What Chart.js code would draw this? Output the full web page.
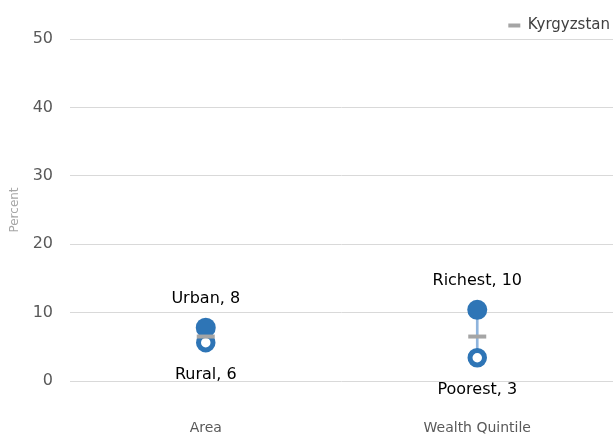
<!DOCTYPE html>
<html>
<head>
<meta charset="utf-8">
<script src="https://cdn.jsdelivr.net/npm/chart.js@4.4.0/dist/chart.umd.min.js"></script>
<style>
  html, body { margin: 0; padding: 0; background: #fff; overflow: hidden; }
  canvas { display: block; }
</style>
</head>
<body>
<canvas id="chart" width="613" height="436"></canvas>
<script>
const categories = ['Area', 'Wealth Quintile'];
const highNames = ['Urban', 'Richest'];
const highValues = [7.8, 10.4];
const lowNames = ['Rural', 'Poorest'];
const lowValues = [5.6, 3.4];
const nationalValues = [6.5, 6.5];
const yTicks = [0, 10, 20, 30, 40, 50];

const FONT = "'DejaVu Sans', sans-serif";
const BLUE = '#2e75b6';

// draws "Name, value" above the high dot and below the low dot
const pointLabels = {
  id: 'pointLabels',
  afterDatasetsDraw(chart) {
    const ctx = chart.ctx;
    ctx.save();
    ctx.font = '16px ' + FONT;
    ctx.fillStyle = '#000';
    ctx.textAlign = 'center';
    ctx.textBaseline = 'middle';
    chart.getDatasetMeta(1).data.forEach((pt, i) => {
      ctx.fillText(highNames[i] + ', ' + Math.round(highValues[i]), pt.x, pt.y - 29);
    });
    chart.getDatasetMeta(2).data.forEach((pt, i) => {
      ctx.fillText(lowNames[i] + ', ' + Math.round(lowValues[i]), pt.x, pt.y + 32);
    });
    ctx.restore();
  }
};

new Chart(document.getElementById('chart'), {
  type: 'bar',
  data: {
    labels: categories,
    datasets: [
      {
        label: 'range',
        data: categories.map((c, i) => [lowValues[i], highValues[i]]),
        backgroundColor: '#8fb4dd',
        barThickness: 2,
        order: 3
      },
      {
        type: 'line',
        label: 'high',
        data: highValues,
        showLine: false,
        pointRadius: 10,
        pointBackgroundColor: BLUE,
        pointBorderWidth: 0,
        order: 2
      },
      {
        type: 'line',
        label: 'low',
        data: lowValues,
        showLine: false,
        pointRadius: 7.25,
        pointBackgroundColor: '#fff',
        pointBorderColor: BLUE,
        pointBorderWidth: 5,
        order: 2
      },
      {
        type: 'line',
        label: 'Kyrgyzstan',
        data: nationalValues,
        showLine: false,
        pointStyle: 'line',
        pointRadius: 9,
        pointBorderWidth: 4,
        borderColor: '#a5a5a5',
        pointBorderColor: '#a5a5a5',
        backgroundColor: '#a5a5a5',
        order: 1
      }
    ]
  },
  options: {
    responsive: false,
    animation: false,
    layout: { autoPadding: false, padding: { top: 15, right: 0, left: 0, bottom: 0 } },
    plugins: {
      legend: {
        position: 'top',
        align: 'end',
        maxHeight: 24,
        labels: {
          filter: item => item.text === 'Kyrgyzstan',
          usePointStyle: true,
          pointStyle: 'line',
          pointStyleWidth: 12,
          boxHeight: 4,
          color: '#404040',
          font: { family: FONT, size: 15 },
          padding: 3
        }
      },
      tooltip: { enabled: false }
    },
    scales: {
      x: {
        offset: true,
        grid: { display: false, drawTicks: false },
        border: { display: false },
        afterFit: axis => { axis.height = 55; },
        ticks: {
          color: '#595959',
          font: { family: FONT, size: 14 },
          padding: 39
        }
      },
      y: {
        min: 0,
        max: 50,
        afterBuildTicks: axis => { axis.ticks = yTicks.map(v => ({ value: v })); },
        afterFit: axis => { axis.width = 70; },
        grid: { color: '#d9d9d9', drawTicks: false },
        border: { display: false },
        ticks: {
          color: '#595959',
          font: { family: FONT, size: 16 },
          padding: 17
        },
        title: {
          display: true,
          text: 'Percent',
          color: '#a6a6a6',
          font: { family: FONT, size: 12 },
          padding: { top: 8, bottom: 0 }
        }
      }
    }
  },
  plugins: [pointLabels]
});
</script>
</body>
</html>
